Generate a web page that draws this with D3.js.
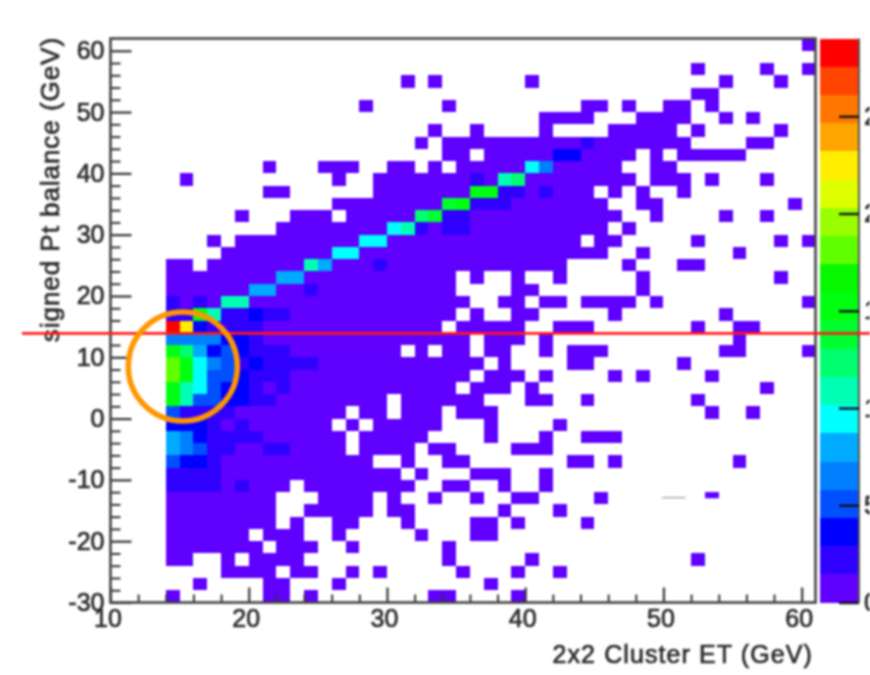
<!DOCTYPE html>
<html>
<head>
<meta charset="utf-8">
<script src="https://cdn.jsdelivr.net/npm/d3@7"></script>
<style>
html, body { margin: 0; padding: 0; background: #fff; overflow: hidden; }
svg { display: block; filter: blur(0.9px); }
text { font-family: "Liberation Sans", Arial, sans-serif; fill: #2b2b2b; }
</style>
</head>
<body>
<div id="chart"></div>
<script>
// lower edge of each 2 GeV row, top of the plot first
const rowEdges = [60, 58, 56, 54, 52, 50, 48, 46, 44, 42, 40, 38, 36, 34, 32, 30, 28, 26, 24, 22, 20, 18, 16, 14, 12, 10, 8, 6, 4, 2, 0,
    -2, -4, -6, -8, -10, -12, -14, -16, -18, -20, -22, -24, -26, -28, -30]

// filled 1 GeV columns of each row, same order as rowEdges
const filledColumns = [
    "60",
    "",
    "52 57 60",
    "31 33 40 54 58",
    "52-53",
    "28 34 44-45 47 50-51 53",
    "41-44 48-51 54 56",
    "33 36 41 46-50 52 58",
    "32 34-51 56-57",
    "34-35 37-47 49 51-55",
    "21 25-27 30-31 33 35-46 49-50",
    "15 26 29-47 49-51 53 57",
    "21-22 29-44 46 48 51",
    "26-45 48-49 59",
    "19 23-25 27-46 49 54 57",
    "22-45 47",
    "17 19-43 45-46 52 58 60",
    "18-45 48 55",
    "14-15 17-42 47 51-52",
    "14-34 36 39 42 48 58",
    "14-34 39-40 48",
    "14-35 38-39 41-42 44-47 49 60",
    "14-34 36 39-40 46 54",
    "14-33 35-39 42-44 52 55-56",
    "14-35 37-39 41 55",
    "14-30 32 34-35 37-38 41 43-45 54-55 60",
    "14-36 38 43-44 51",
    "14-35 37-39 41 46 48 53",
    "14-34 36-38 40 57",
    "14-29 31-36 40-41 44 52",
    "14-26 28-29 31-33 35-37 53 56",
    "14-25 27 29-33 37 42",
    "14-26 28-32 37 41 44-46",
    "14-26 28-31 33-34 39-41",
    "14-28 31 34-35 43-44 46 55",
    "14-30 32 36-38 41",
    "14-22 24-31 34-35 38 41",
    "14-21 25-28 30 33 36 39-40 45 53",
    "14-21 24-28 30-31 38 42",
    "14-21 23 26-27 31 36-37 39 44",
    "14-19 21-23 26 32 36-37",
    "14-20 22-24 27 34",
    "14-15 18 20-23 34 40 52",
    "18-21 23-24 27 29 35 39 42",
    "16 21-22 26 37",
    "14 21-22 24 33-34 39"
]

// counts above 1: [column, row edge, count]
const peakCells = [
    [44, 44, 2], [42, 42, 3], [43, 42, 3], [40, 40, 10], [41, 40, 6],
    [36, 38, 2], [38, 38, 11], [39, 38, 12],
    [36, 36, 15], [37, 36, 15], [38, 36, 2], [39, 36, 2], [41, 36, 2],
    [34, 34, 14], [35, 34, 15], [36, 34, 2], [37, 34, 2], [38, 34, 2],
    [32, 32, 12], [33, 32, 14], [34, 32, 2], [35, 32, 2],
    [30, 30, 10], [31, 30, 11], [32, 30, 2], [34, 30, 2], [35, 30, 2],
    [28, 28, 10], [29, 28, 10], [26, 26, 10], [27, 26, 10],
    [24, 24, 11], [25, 24, 8], [29, 24, 2],
    [22, 22, 8], [23, 22, 8], [20, 20, 8], [21, 20, 8], [24, 20, 2],
    [14, 18, 2], [16, 18, 2], [18, 18, 11], [19, 18, 11],
    [14, 16, 2], [15, 16, 2], [16, 16, 15], [17, 16, 11], [18, 16, 2], [19, 16, 2], [20, 16, 3], [21, 16, 2], [22, 16, 2],
    [14, 14, 29], [15, 14, 23], [16, 14, 3], [17, 14, 2], [18, 14, 2], [19, 14, 2], [20, 14, 2],
    [14, 12, 6], [15, 12, 6], [16, 12, 6], [17, 12, 6], [18, 12, 3], [19, 12, 3], [20, 12, 2],
    [14, 10, 15], [15, 10, 12], [16, 10, 8], [17, 10, 3], [18, 10, 5], [19, 10, 3], [20, 10, 2], [21, 10, 2], [22, 10, 2],
    [14, 8, 18], [15, 8, 15], [16, 8, 10], [17, 8, 6], [18, 8, 5], [19, 8, 2], [20, 8, 3], [21, 8, 2], [22, 8, 2], [23, 8, 2], [24, 8, 2],
    [14, 6, 18], [15, 6, 15], [16, 6, 10], [17, 6, 5], [18, 6, 5], [19, 6, 3], [20, 6, 2], [21, 6, 2], [22, 6, 2],
    [14, 4, 15], [15, 4, 11], [16, 4, 10], [17, 4, 5], [18, 4, 3], [19, 4, 3], [20, 4, 2], [22, 4, 2],
    [14, 2, 15], [15, 2, 11], [16, 2, 5], [17, 2, 5], [18, 2, 3], [19, 2, 3], [20, 2, 2], [21, 2, 2],
    [14, 0, 5], [15, 0, 2], [16, 0, 2], [17, 0, 2], [18, 0, 2],
    [14, -2, 3], [15, -2, 3], [16, -2, 3], [17, -2, 2], [19, -2, 2],
    [14, -4, 8], [15, -4, 6], [16, -4, 3], [17, -4, 2], [18, -4, 2], [19, -4, 2], [20, -4, 2],
    [14, -6, 8], [15, -6, 6], [16, -6, 5], [17, -6, 2], [18, -6, 2], [21, -6, 2], [22, -6, 2],
    [14, -8, 5], [15, -8, 3], [16, -8, 3], [17, -8, 2],
    [14, -10, 2], [15, -10, 2], [16, -10, 2], [17, -10, 2],
    [14, -12, 2], [15, -12, 2], [16, -12, 2], [17, -12, 2], [19, -12, 2]
]

const xTicks = [10, 20, 30, 40, 50, 60]
const yTicks = [-30, -20, -10, 0, 10, 20, 30, 40, 50, 60]
const zTicks = [0, 5, 10, 15, 20, 25]

const xLabel = "2x2 Cluster ET (GeV)"
const yLabel = "signed Pt balance (GeV)"

const palette = ["#6000ff", "#3000ff", "#0000ff", "#0050ff", "#0080ff", "#00aaff", "#00ffff", "#00ffb4", "#00ff70", "#00ff30",
    "#00ff10", "#08f800", "#60ff00", "#99ff00", "#ddff00", "#ffee00", "#ffa500", "#ff7700", "#ff4400", "#ff0000"]

const cutLevel = 13.9
const ringCentre = [15.23, 8.5]

const width = 870
const height = 675

const x = d3.scaleLinear().domain([10, 61]).range([110.5, 815.5])
const y = d3.scaleLinear().domain([-30, 62]).range([602.5, 38.5])
const zMax = 29
const z = d3.scaleLinear().domain([0, zMax]).range([602.5, 38.5])
const color = d3.scaleQuantize().domain([0, zMax]).range(palette)

function parseColumns(str) {
    const columns = []
    str.split(" ").filter(function (d) { return d }).forEach(function (part) {
        const ends = part.split("-").map(Number)
        const last = ends.length > 1 ? ends[1] : ends[0]
        for (let c = ends[0]; c <= last; c++) columns.push(c)
    })
    return columns
}

function buildCells() {
    const peaks = new Map(peakCells.map(function (d) { return [d[0] + "," + d[1], d[2]] }))
    const cells = []
    rowEdges.forEach(function (edge, i) {
        parseColumns(filledColumns[i]).forEach(function (c) {
            cells.push({ col: c, row: edge, count: peaks.get(c + "," + edge) || 1 })
        })
    })
    return cells
}

const svg = d3.select("#chart").append("svg")
    .attr("width", width)
    .attr("height", height)

svg.append("g")
    .selectAll("rect")
    .data(buildCells())
    .enter()
    .append("rect")
    .attr("x", function (d) { return x(d.col) })
    .attr("y", function (d) { return y(d.row + 2) })
    .attr("width", function (d) { return x(d.col + 1) - x(d.col) })
    .attr("height", function (d) { return y(d.row) - y(d.row + 2) })
    .attr("fill", function (d) { return color(d.count) })
    .attr("shape-rendering", "crispEdges")

// the source picture has a white smear over this corner
svg.append("rect")
    .attr("x", x(49.9)).attr("width", x(54.2) - x(49.9))
    .attr("y", y(-13)).attr("height", y(-15) - y(-13))
    .attr("fill", "#fff")
svg.append("line")
    .attr("x1", x(49.9)).attr("x2", x(51.6))
    .attr("y1", y(-12.9)).attr("y2", y(-12.9))
    .attr("stroke", "#888").attr("stroke-width", 1)

function styleAxis(g, strokeWidth) {
    g.select(".domain").remove()
    g.selectAll("line").attr("stroke", "#333").attr("stroke-width", strokeWidth)
    g.selectAll("text").attr("font-size", 25).attr("fill", "#2b2b2b")
        .attr("stroke", "#2b2b2b").attr("stroke-width", 0.7)
}

const xMinor = d3.range(10, 61, 2).filter(function (d) { return d % 10 })
const yMinor = d3.range(-30, 62, 2).filter(function (d) { return d % 10 })

svg.append("g")
    .attr("transform", "translate(0," + y(-30) + ")")
    .call(d3.axisBottom(x).tickValues(xMinor).tickSize(-8).tickFormat(""))
    .call(styleAxis, 2)

svg.append("g")
    .attr("transform", "translate(" + x(10) + ",0)")
    .call(d3.axisLeft(y).tickValues(yMinor).tickSize(-10).tickFormat(""))
    .call(styleAxis, 2)

svg.append("g")
    .attr("transform", "translate(0," + y(-30) + ")")
    .call(d3.axisBottom(x).tickValues(xTicks).tickSize(-15).tickPadding(7).tickFormat(String))
    .call(styleAxis, 2.2)
    .call(function (g) { g.selectAll("text").attr("dx", -3) })

svg.append("g")
    .attr("transform", "translate(" + x(10) + ",0)")
    .call(d3.axisLeft(y).tickValues(yTicks).tickSize(-21).tickPadding(6).tickFormat(String))
    .call(styleAxis, 2.2)

// plot frame
svg.append("rect")
    .attr("x", x(10)).attr("y", y(62))
    .attr("width", x(61) - x(10)).attr("height", y(-30) - y(62))
    .attr("fill", "none").attr("stroke", "#444").attr("stroke-width", 2.6)

// colour bar
const barX = 820
const barWidth = 39

svg.append("g")
    .selectAll("rect")
    .data(palette)
    .enter()
    .append("rect")
    .attr("x", barX)
    .attr("y", function (d, i) { return z((i + 1) * zMax / palette.length) })
    .attr("width", barWidth)
    .attr("height", function (d, i) { return z(i * zMax / palette.length) - z((i + 1) * zMax / palette.length) })
    .attr("fill", function (d) { return d })
    .attr("shape-rendering", "crispEdges")

svg.append("line")
    .attr("x1", barX + barWidth).attr("x2", barX + barWidth)
    .attr("y1", z(zMax)).attr("y2", z(0))
    .attr("stroke", "#555").attr("stroke-width", 2)

svg.append("g")
    .attr("transform", "translate(" + (barX + barWidth) + ",0)")
    .call(d3.axisRight(z).tickValues(zTicks).tickSize(-20).tickPadding(5).tickFormat(String))
    .call(styleAxis, 2.4)
    .call(function (g) { g.selectAll("line").attr("stroke", "#111") })

// axis titles
svg.append("text")
    .attr("x", 813).attr("y", 663)
    .attr("text-anchor", "end")
    .attr("font-size", 25)
    .attr("letter-spacing", 1.1)
    .attr("stroke", "#2b2b2b").attr("stroke-width", 0.7)
    .text(xLabel)

svg.append("text")
    .attr("transform", "translate(59,37) rotate(-90)")
    .attr("text-anchor", "end")
    .attr("font-size", 26)
    .attr("letter-spacing", 0.95)
    .attr("stroke", "#2b2b2b").attr("stroke-width", 0.7)
    .text(yLabel)

// annotations on top of the picture
svg.append("line")
    .attr("x1", 22).attr("x2", width)
    .attr("y1", y(cutLevel)).attr("y2", y(cutLevel))
    .attr("stroke", "#ff1a1a").attr("stroke-width", 2.6)

svg.append("circle")
    .attr("cx", x(ringCentre[0])).attr("cy", y(ringCentre[1]))
    .attr("r", 54.5)
    .attr("fill", "none")
    .attr("stroke", "#ff9500").attr("stroke-width", 5.5)
</script>
</body>
</html>
